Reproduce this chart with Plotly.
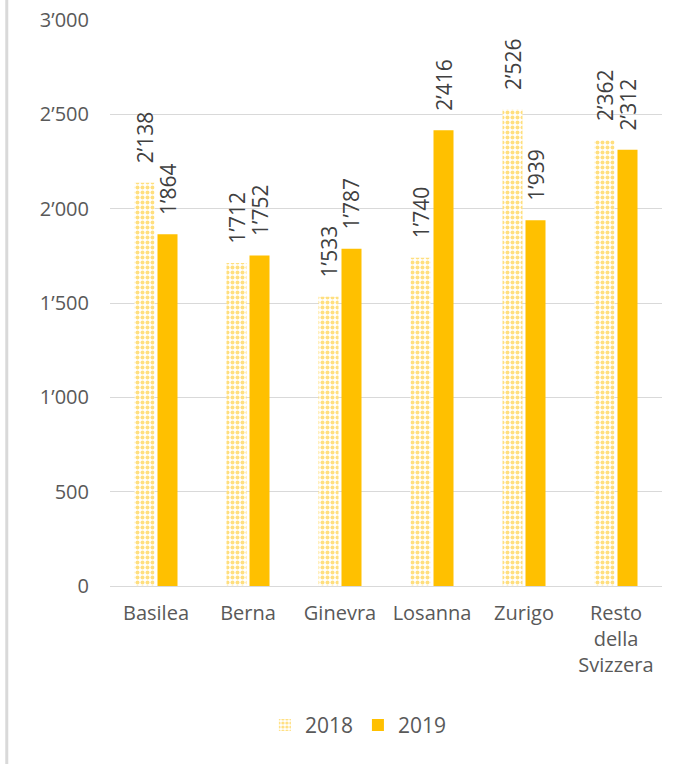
import plotly.graph_objects as go

categories = ["Basilea", "Berna", "Ginevra", "Losanna", "Zurigo", "Resto<br>della<br>Svizzera"]
values_2018 = [2138, 1712, 1533, 1740, 2526, 2362]
values_2019 = [1864, 1752, 1787, 2416, 1939, 2312]
tick_vals = [0, 500, 1000, 1500, 2000, 2500, 3000]

def fmt(v):
    return f"{v:,}".replace(",", "\u2019")

PAD = "\u00a0\u00a0\u00a0"  # gap between bar top and rotated label
GOLD = "#FFC000"
FONT = "'Open Sans', Lato, sans-serif"
FS = 20
LFS = 21

fig = go.Figure()
fig.add_trace(go.Bar(
    name="2018", x=categories, y=values_2018,
    text=[PAD + fmt(v) for v in values_2018],
    textposition="outside", textangle=-90, constraintext="none",
    textfont=dict(size=LFS, color="#404040", family=FONT),
    marker=dict(color="white", line=dict(width=0),
                pattern=dict(shape=".", fgcolor=GOLD, bgcolor="white",
                             size=5, solidity=0.5, fillmode="overlay")),
    cliponaxis=False,
))
fig.add_trace(go.Bar(
    name="2019", x=categories, y=values_2019,
    text=[PAD + fmt(v) for v in values_2019],
    textposition="outside", textangle=-90, constraintext="none",
    textfont=dict(size=LFS, color="#404040", family=FONT),
    marker=dict(color=GOLD, line=dict(width=0)),
    cliponaxis=False,
))

fig.update_layout(
    width=683, height=764,
    margin=dict(l=110, r=21, t=20, b=178, autoexpand=False),
    paper_bgcolor="white", plot_bgcolor="white",
    barmode="group", bargap=0.5, bargroupgap=0.13,
    font=dict(family=FONT, size=FS, color="#595959"),
    separators=".\u2019",
    showlegend=True,
    legend=dict(orientation="h", x=0.45, xanchor="center", y=-0.21, yanchor="top",
                font=dict(size=21, color="#595959"), itemwidth=30, traceorder="normal"),
    shapes=[dict(type="line", xref="paper", yref="paper",
                 x0=-0.187, x1=-0.187, y0=-0.32, y1=1.04,
                 line=dict(color="#d9d9d9", width=3))],
)
fig.update_yaxes(range=[0, 3000], tickvals=tick_vals,
                 ticktext=[fmt(v) for v in tick_vals],
                 showgrid=True, gridcolor="#d9d9d9", gridwidth=1,
                 zeroline=True, zerolinecolor="#d9d9d9", zerolinewidth=1,
                 showline=False, ticks="", ticklabelstandoff=20,
                 tickfont=dict(size=FS, color="#595959"))
fig.update_xaxes(showgrid=False, showline=False, ticks="",
                 tickfont=dict(size=FS, color="#595959"), ticklabelstandoff=13)

fig.write_html("out.html", config={"displayModeBar": False},
               post_script="document.body.style.margin='0';")
